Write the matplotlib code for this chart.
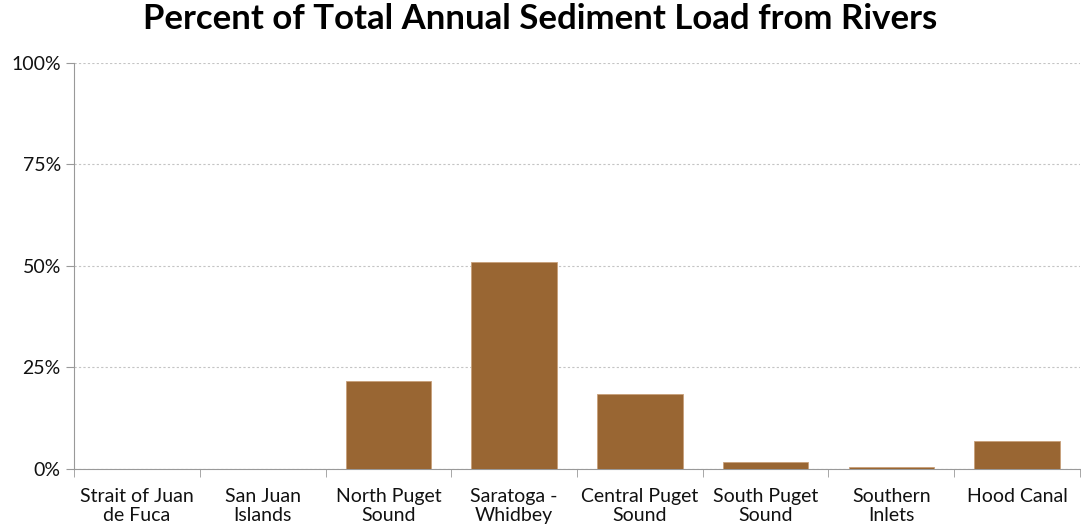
import numpy as np
import matplotlib.pyplot as plt
from matplotlib.ticker import FixedLocator, PercentFormatter

plt.rcParams['font.family'] = ['Lato', 'DejaVu Sans']

# regions and their share of the total annual river sediment load (%)
regions = ["Strait of Juan\nde Fuca", "San Juan\nIslands", "North Puget\nSound",
           "Saratoga -\nWhidbey", "Central Puget\nSound", "South Puget\nSound",
           "Southern\nInlets", "Hood Canal"]
percent = [0.0, 0.0, 21.5, 50.9, 18.3, 1.7, 0.5, 6.7]
yticks = [0, 25, 50, 75, 100]

fig = plt.figure(figsize=(10.81, 5.32), dpi=100)
ax = fig.add_axes([0.0685, 0.119, 0.9305, 0.763])

x = np.arange(len(regions))
ax.bar(x, percent, width=0.68, color="#996633", edgecolor="#c8a07a", linewidth=0.6, zorder=3)

ax.set_xlim(-0.5, len(regions) - 0.5)
ax.set_ylim(0, 100)
ax.set_yticks(yticks)
ax.yaxis.set_major_formatter(PercentFormatter(decimals=0))
ax.grid(axis="y", color="#c4c4c4", linestyle=(0, (2, 2)), linewidth=0.8, zorder=0)

ax.set_xticks(x)
ax.set_xticklabels(regions, fontsize=14, color="#111111", linespacing=1.15)
ax.tick_params(axis="x", which="major", length=0, pad=14)
ax.xaxis.set_minor_locator(FixedLocator(np.arange(len(regions) + 1) - 0.5))
ax.tick_params(axis="x", which="minor", length=6, color="#999999")
ax.tick_params(axis="y", length=6, color="#999999", labelsize=14, labelcolor="#111111")

for side in ["top", "right"]:
    ax.spines[side].set_visible(False)
for side in ["left", "bottom"]:
    ax.spines[side].set_color("#999999")

fig.suptitle("Percent of Total Annual Sediment Load from Rivers", fontsize=25,
             fontweight="bold", y=0.995)

fig.savefig("out.png", dpi=100)
